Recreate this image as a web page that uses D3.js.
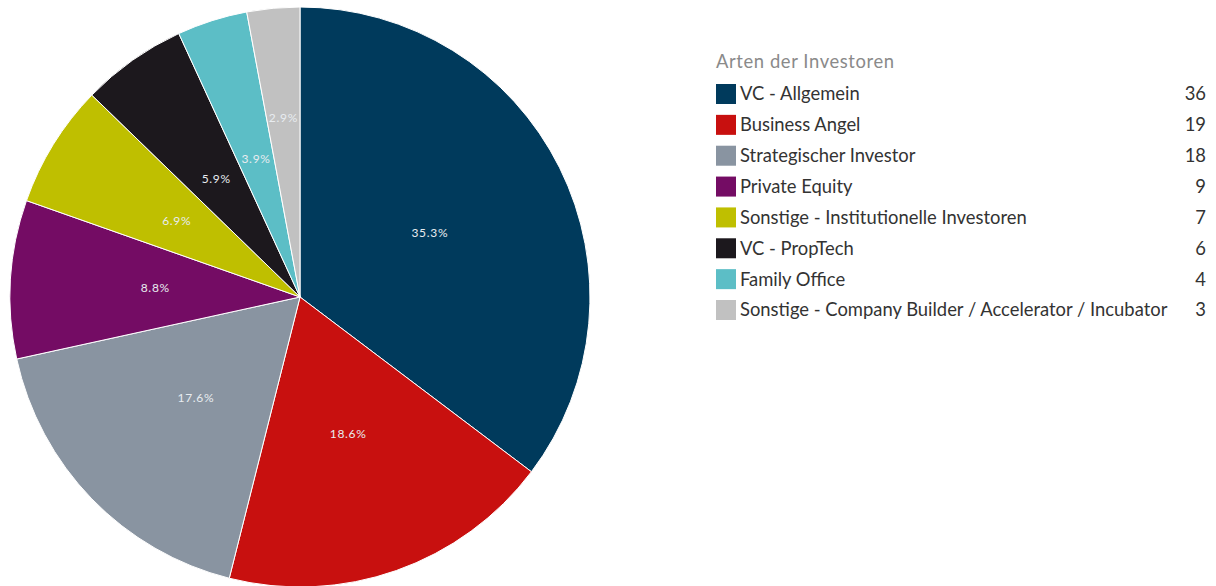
<!DOCTYPE html>
<html>
<head>
<meta charset="utf-8">
<script src="https://cdn.jsdelivr.net/npm/d3@7"></script>
<style>
  body { margin: 0; background: #fff; font-family: Lato, "Open Sans", sans-serif; }
</style>
</head>
<body>
<div id="chart"></div>
<script>
// Chart data
var categories = [
  "VC - Allgemein",
  "Business Angel",
  "Strategischer Investor",
  "Private Equity",
  "Sonstige - Institutionelle Investoren",
  "VC - PropTech",
  "Family Office",
  "Sonstige - Company Builder / Accelerator / Incubator"
];
var counts = [36, 19, 18, 9, 7, 6, 4, 3];
var colors = ["#003a5c", "#c8100f", "#8994a1", "#740c64", "#bfbf00", "#1c181d", "#5cbec6", "#c1c1c1"];
var legendTitle = "Arten der Investoren";

var svgWidth = 1216;
var svgHeight = 586;
var cx = 300, cy = 297, radius = 290;

var svg = d3.select("#chart")
  .append("svg")
  .attr("width", svgWidth)
  .attr("height", svgHeight);

var data = categories.map(function(c, i) {
  return { name: c, value: counts[i], color: colors[i] };
});
var total = d3.sum(counts);

var pie = d3.pie().sort(null).value(d => d.value);
var arc = d3.arc().innerRadius(0).outerRadius(radius);

var pieGroup = svg.append("g")
  .attr("transform", `translate(${cx}, ${cy})`);

var arcs = pie(data);

pieGroup.selectAll("path")
  .data(arcs)
  .enter()
  .append("path")
  .attr("d", arc)
  .attr("fill", d => d.data.color)
  .attr("stroke", "#fff")
  .attr("stroke-width", 1);

// labels sit at half radius, tiny slices get pushed out a bit
pieGroup.selectAll(".label")
  .data(arcs)
  .enter()
  .append("text")
  .attr("class", "label")
  .attr("transform", function(d) {
    var r = d.data.value / total < 0.035 ? radius * 0.62 : radius * 0.5;
    var a = (d.startAngle + d.endAngle) / 2;
    return `translate(${Math.sin(a) * r}, ${-Math.cos(a) * r})`;
  })
  .attr("text-anchor", "middle")
  .attr("dy", "0.35em")
  .attr("fill", "#e8ecf0")
  .style("font-size", "12px")
  .style("letter-spacing", "0.7px")
  .text(d => (d.data.value / total * 100).toFixed(1) + "%");

// Legend
var legend = svg.append("g")
  .attr("transform", "translate(716, 0)");

legend.append("text")
  .attr("x", 0)
  .attr("y", 62)
  .attr("dy", "0.35em")
  .attr("fill", "#8a8a8a")
  .style("font-size", "18.4px")
  .style("letter-spacing", "0.6px")
  .text(legendTitle);

var rowY = d3.scalePoint()
  .domain(categories)
  .range([94, 310]);

var rows = legend.selectAll(".row")
  .data(data)
  .enter()
  .append("g")
  .attr("class", "row")
  .attr("transform", d => `translate(0, ${rowY(d.name)})`);

rows.append("rect")
  .attr("x", 0)
  .attr("y", -10)
  .attr("width", 20)
  .attr("height", 20)
  .attr("fill", d => d.color);

rows.append("text")
  .attr("x", 24)
  .attr("dy", "0.35em")
  .attr("fill", "#333")
  .style("font-size", "18.4px")
  .text(d => d.name);

rows.append("text")
  .attr("x", 490)
  .attr("dy", "0.35em")
  .attr("text-anchor", "end")
  .attr("fill", "#333")
  .style("font-size", "18.4px")
  .text(d => d.value);
</script>
</body>
</html>
